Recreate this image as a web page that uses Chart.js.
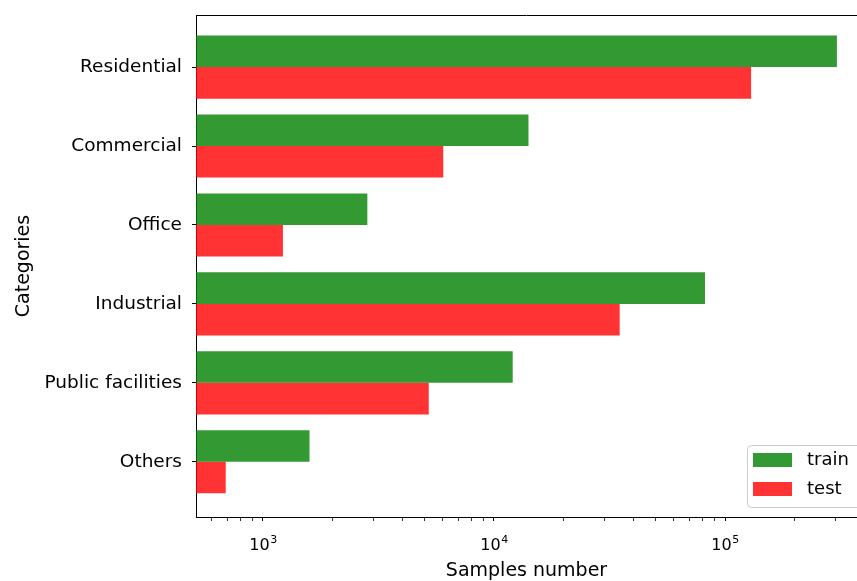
<!DOCTYPE html>
<html>
<head>
<meta charset="utf-8">
<script src="https://cdn.jsdelivr.net/npm/chart.js@4/dist/chart.umd.min.js"></script>
<style>
  html, body { margin: 0; padding: 0; background: #fff; }
  #chart { display: block; }
</style>
</head>
<body>
<canvas id="chart" width="857" height="581"></canvas>
<script>
// data (log x axis)
const categories = ['Residential', 'Commercial', 'Office', 'Industrial', 'Public facilities', 'Others'];
const trainCounts = [305000, 14100, 2830, 81900, 12050, 1590];
const testCounts = [129700, 6030, 1220, 35000, 5220, 690];
const xTickValues = [1000, 10000, 100000];
const xTickExponents = ['3', '4', '5'];

const FONT = "'DejaVu Sans', sans-serif";

// matplotlib style frame line on top of the plot
const topBorder = {
    id: 'topBorder',
    afterDraw(chart) {
        const a = chart.chartArea;
        const c = chart.ctx;
        c.save();
        c.strokeStyle = '#000';
        c.lineWidth = 1;
        c.beginPath();
        c.moveTo(a.left, Math.round(a.top) + 0.5);
        c.lineTo(a.right, Math.round(a.top) + 0.5);
        c.stroke();
        c.restore();
    }
};

// "10" with a raised exponent, like mathtext
const powerLabels = {
    id: 'powerLabels',
    afterDraw(chart) {
        const sx = chart.scales.x;
        const c = chart.ctx;
        const base = sx.top + 33;
        c.save();
        c.fillStyle = '#000';
        c.textBaseline = 'alphabetic';
        c.textAlign = 'left';
        xTickValues.forEach((v, i) => {
            c.font = '16px ' + FONT;
            const w1 = c.measureText('10').width;
            c.font = '11px ' + FONT;
            const w2 = c.measureText(xTickExponents[i]).width;
            const x0 = sx.getPixelForValue(v) - (w1 + w2) / 2;
            c.font = '16px ' + FONT;
            c.fillText('10', x0, base);
            c.font = '11px ' + FONT;
            c.fillText(xTickExponents[i], x0 + w1 + 0.5, base - 7);
        });
        c.restore();
    }
};

// legend in the lower right corner, inside the axes
const boxLegend = {
    id: 'boxLegend',
    afterDraw(chart) {
        const a = chart.chartArea;
        const c = chart.ctx;
        const x = a.right - 110, y = a.bottom - 72;
        c.save();
        c.fillStyle = 'rgba(255,255,255,0.8)';
        c.strokeStyle = '#cccccc';
        c.lineWidth = 1;
        c.beginPath();
        c.roundRect(x + 0.5, y + 0.5, 140, 62, 4);
        c.fill();
        c.stroke();
        c.font = '18px ' + FONT;
        c.textBaseline = 'middle';
        chart.data.datasets.forEach((ds, i) => {
            const ry = y + 8 + i * 29;
            c.fillStyle = ds.backgroundColor;
            c.fillRect(x + 6, ry, 39, 14);
            c.fillStyle = '#000';
            c.fillText(ds.label, x + 60, ry + 7);
        });
        c.restore();
    }
};

const ctx = document.getElementById('chart').getContext('2d');

const chart = new Chart(ctx, {
    type: 'bar',
    data: {
        datasets: [{
            label: 'train',
            data: trainCounts.map((v, i) => ({ x: v, y: i })),
            backgroundColor: 'rgba(0,128,0,0.8)'
        }, {
            label: 'test',
            data: testCounts.map((v, i) => ({ x: v, y: i })),
            backgroundColor: 'rgba(255,0,0,0.8)'
        }]
    },
    options: {
        indexAxis: 'y',
        responsive: false,
        animation: false,
        categoryPercentage: 0.8,
        barPercentage: 1.0,
        layout: { padding: { top: 15, left: 0, right: 0, bottom: 0 } },
        plugins: {
            legend: { display: false },
            tooltip: { enabled: false }
        },
        scales: {
            x: {
                type: 'logarithmic',
                min: 513,
                max: 372600,
                afterBuildTicks(scale) {
                    const t = [];
                    for (let e = 2; e <= 5; e++) {
                        for (let m = 1; m <= 9; m++) {
                            const v = m * Math.pow(10, e);
                            if (v >= scale.min && v <= scale.max) t.push({ value: v });
                        }
                    }
                    scale.ticks = t;
                },
                afterFit(scale) {
                    scale.height = 64;
                    scale.paddingLeft = 0;
                    scale.paddingRight = 0;
                },
                border: { display: true, color: '#000', width: 1 },
                grid: {
                    drawOnChartArea: false,
                    drawTicks: true,
                    tickLength: 4,
                    tickColor: '#000',
                    tickWidth: (c) => xTickValues.includes(c.tick && c.tick.value) ? 1 : 0.8
                },
                ticks: {
                    autoSkip: false,
                    maxRotation: 0,
                    minRotation: 0,
                    callback: () => ''
                },
                title: {
                    display: true,
                    text: 'Samples number',
                    color: '#000',
                    padding: { top: 0, bottom: 0 },
                    font: { family: FONT, size: 19, lineHeight: 1 }
                }
            },
            y: {
                type: 'linear',
                reverse: true,
                offset: false,
                min: -0.66,
                max: 5.70,
                afterBuildTicks(scale) {
                    scale.ticks = categories.map((c, i) => ({ value: i }));
                },
                afterFit(scale) {
                    scale.width = 196;
                    scale.paddingTop = 0;
                    scale.paddingBottom = 0;
                },
                border: { display: true, color: '#000', width: 1 },
                grid: {
                    offset: false,
                    drawOnChartArea: false,
                    drawTicks: true,
                    tickLength: 4,
                    tickColor: '#000'
                },
                ticks: {
                    autoSkip: false,
                    padding: 10,
                    color: '#000',
                    font: { family: FONT, size: 18.5 },
                    callback: (value) => categories[value]
                },
                title: {
                    display: true,
                    text: 'Categories',
                    color: '#000',
                    padding: { top: 15, bottom: 0 },
                    font: { family: FONT, size: 19, lineHeight: 1 }
                }
            }
        }
    },
    plugins: [topBorder, powerLabels, boxLegend]
});
</script>
</body>
</html>
